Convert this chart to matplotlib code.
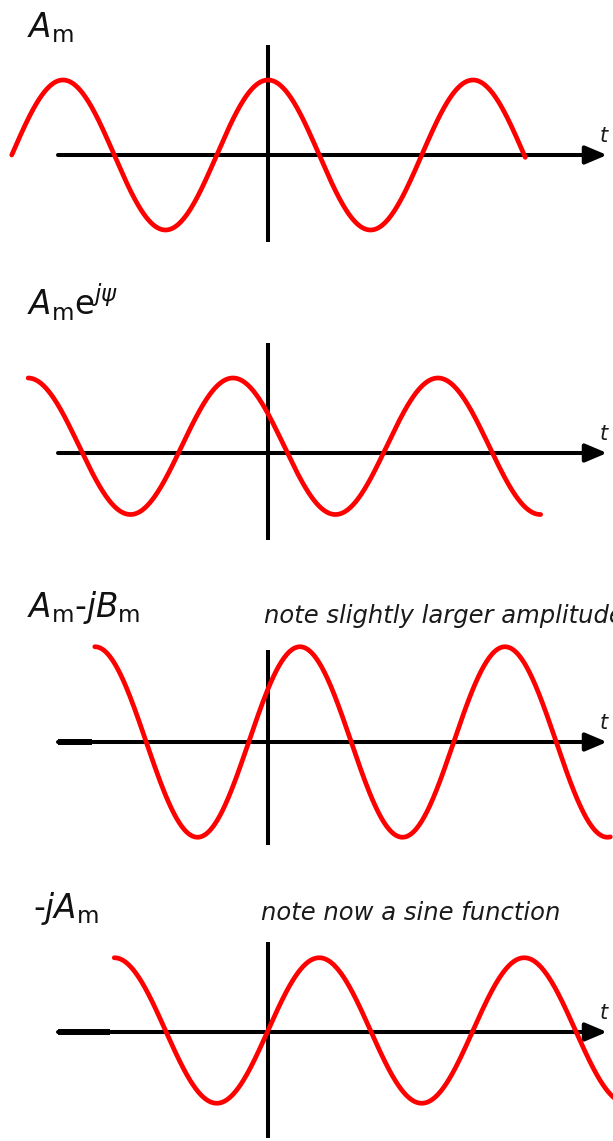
import numpy as np
import matplotlib
matplotlib.use("Agg")
import matplotlib.pyplot as plt

plt.rcParams['font.family'] = ['DejaVu Sans']
plt.rcParams['mathtext.fontset'] = 'dejavusans'

RED = '#ff0000'

# one entry per panel, top to bottom
labels = [r'$A_\mathrm{m}$',
          r'$A_\mathrm{m}\mathrm{e}^{j\psi}$',
          r'$A_\mathrm{m}$-$jB_\mathrm{m}$',
          r'-$jA_\mathrm{m}$']
notes = ['', '', 'note slightly larger amplitude', 'note now a sine function']
amplitudes = [1.0, 0.91, 1.27, 0.97]      # relative to panel 1
offsets = [0.0, 0.09, 0.0, 0.02]          # small vertical shift of the drawn curve
peak_at = [0.0, -0.171, 0.156, 0.25]      # position of a crest, in periods
t_start = [-1.25, -1.17, -0.845, -0.75]   # in periods
t_end = [1.255, 1.33, 1.67, 1.75]

# layout in pixels of the 613x1141 picture
W, H = 613, 1141
X0 = 268          # vertical axis
PERIOD = 205      # px per period
UNIT = 75         # px per amplitude unit
axis_y = [155, 453, 742, 1032]
vline_top = [45, 343, 650, 942]
vline_bot = [242, 540, 845, 1138]
label_x = [27, 27, 27, 33]
label_base = [37, 315, 617, 918]
note_x = [0, 0, 264, 261]
note_base = [0, 0, 623, 920]
stub_end = [None, None, 92, 110]

fig = plt.figure(figsize=(W / 100, H / 100), dpi=100)
half = 150

for i in range(4):
    ax = fig.add_axes([0, (H - axis_y[i] - half) / H, 1, 2 * half / H])
    ax.set_xlim(-X0 / PERIOD, (W - X0) / PERIOD)
    ax.set_ylim(-half / UNIT, half / UNIT)
    ax.set_axis_off()

    def px(x):
        return (x - X0) / PERIOD

    def py(y):
        return (axis_y[i] - y) / UNIT

    # time axis with arrow
    ax.annotate('', xy=(px(607), 0), xytext=(px(58), 0),
                arrowprops=dict(arrowstyle='-|>,head_length=1.3,head_width=0.55',
                                lw=2.9, color='black', shrinkA=0, shrinkB=0,
                                mutation_scale=10),
                annotation_clip=False)
    if stub_end[i]:
        ax.plot([px(58), px(stub_end[i])], [0, 0], color='black', lw=4.3,
                solid_capstyle='butt', clip_on=False)
    # vertical axis
    ax.plot([0, 0], [py(vline_top[i]), py(vline_bot[i])], color='black',
            lw=2.9, solid_capstyle='butt', clip_on=False)

    t = np.linspace(t_start[i], t_end[i], 600)
    y = offsets[i] + amplitudes[i] * np.cos(2 * np.pi * (t - peak_at[i]))
    ax.plot(t, y, color=RED, lw=3.4, solid_capstyle='round', zorder=3, clip_on=True)

    ax.text(px(label_x[i]), py(label_base[i]), labels[i], fontsize=23.5,
            ha='left', va='baseline', color='#111111')
    if notes[i]:
        ax.text(px(note_x[i]), py(note_base[i]), notes[i], fontsize=17.5,
                style='italic', color='#1a1a1a', ha='left', va='baseline')
    ax.text(px(599), py(axis_y[i] - 13), r'$t$', fontsize=15, ha='left',
            va='baseline', color='#1a1a1a')

fig.savefig('out.png', dpi=100)
